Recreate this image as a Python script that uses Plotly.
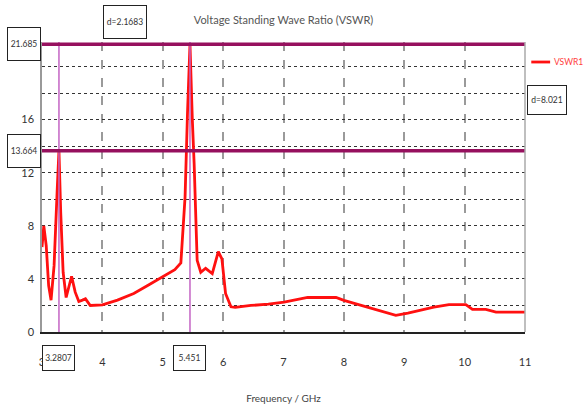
import plotly.graph_objects as go

# VSWR sweep, frequency in GHz
freq = [3.0, 3.03, 3.07, 3.11, 3.15, 3.20, 3.25, 3.2807, 3.31, 3.35, 3.40, 3.45,
        3.49, 3.55, 3.61, 3.67, 3.72, 3.80, 3.90, 4.0, 4.25, 4.52, 4.75, 5.0,
        5.20, 5.30, 5.33, 5.37, 5.41, 5.451, 5.49, 5.52, 5.57, 5.63, 5.71, 5.82,
        5.92, 5.98, 6.04, 6.13, 6.20, 6.46, 6.75, 7.01, 7.40, 7.87, 8.0, 8.39,
        8.86, 9.06, 9.49, 9.74, 10.02, 10.13, 10.35, 10.52, 11.0]
vswr = [6.4, 8.0, 6.5, 3.5, 2.4, 5.0, 10.5, 13.664, 9.0, 4.5, 2.6, 3.5,
        4.2, 3.0, 2.3, 2.4, 2.5, 2.0, 2.05, 2.05, 2.4, 2.9, 3.5, 4.2,
        4.7, 5.2, 7.7, 10.2, 16.5, 21.685, 16.0, 12.7, 5.4, 4.5, 4.8, 4.4,
        6.05, 5.5, 2.9, 1.9, 1.85, 2.0, 2.1, 2.25, 2.6, 2.6, 2.38, 1.87,
        1.25, 1.42, 1.87, 2.07, 2.07, 1.7, 1.7, 1.5, 1.5]
series_name = "VSWR1"

# Marker readouts
marker_x = [3.2807, 5.451]
marker_y = [13.664, 21.685]
delta_x_label = "d=2.1683"
delta_y_label = "d=8.021"

x_ticks = [3, 4, 5, 6, 7, 8, 9, 10, 11]
y_ticks = [0, 4, 8, 12, 16]

FONT = "Lato, Liberation Sans Narrow, sans-serif"
YMAX = 21.85
LINE_RED = "#FF1010"

fig = go.Figure()
fig.add_trace(go.Scatter(
    x=freq, y=vswr, mode="lines", name=series_name, showlegend=False,
    line=dict(color=LINE_RED, width=2.8),
))

# Vertical marker lines
for mx in marker_x:
    fig.add_shape(type="line", xref="x", yref="y", x0=mx, x1=mx, y0=0, y1=YMAX,
                  line=dict(color="#C464C4", width=1.5), layer="above")
# Horizontal marker lines
for my in marker_y:
    fig.add_shape(type="line", xref="paper", yref="y", x0=0, x1=1, y0=my, y1=my,
                  line=dict(color="#96105E", width=3.5), layer="above")

box = dict(bgcolor="white", bordercolor="#222", borderwidth=1, borderpad=2,
           font=dict(family=FONT, size=8.5, color="#333"))

# Y marker readouts on the left
for my in marker_y:
    fig.add_annotation(xref="paper", yref="y", x=0, y=my, xanchor="right",
                       yanchor="middle", xshift=-1, text=f"{my:g}",
                       showarrow=False, width=28, height=28, **box)
# X marker readouts below the axis
for mx in marker_x:
    fig.add_annotation(xref="x", yref="paper", x=mx, y=0, xanchor="center",
                       yanchor="top", yshift=-13, text=f"{mx:g}",
                       showarrow=False, width=27, height=20, **box)

fig.add_annotation(xref="x", yref="paper", x=4.37, y=1, xanchor="center",
                   yanchor="bottom", yshift=3, text=delta_x_label,
                   showarrow=False, width=38, height=28, **box)
fig.add_annotation(xref="paper", yref="y", x=1, y=17.5, xanchor="left",
                   yanchor="middle", xshift=2, text=delta_y_label,
                   showarrow=False, width=34, height=24, **box)

# Series key on the right of the plot
fig.add_shape(type="line", xref="paper", yref="paper", x0=1.013, x1=1.052,
              y0=0.931, y1=0.931, line=dict(color=LINE_RED, width=2.8))
fig.add_annotation(xref="paper", yref="paper", x=1.055, y=0.931, xanchor="left",
                   yanchor="middle", text=series_name, showarrow=False,
                   font=dict(family=FONT, size=8.5, color="#FF4040"))

fig.update_layout(
    width=583, height=412,
    margin=dict(l=41.5, r=58, t=42, b=80, autoexpand=False),
    paper_bgcolor="white", plot_bgcolor="white",
    font=dict(family=FONT, size=11, color="#333"),
    title=dict(text="Voltage Standing Wave Ratio (VSWR)", x=0.5, xref="paper",
               xanchor="center", y=0.95, yanchor="middle",
               font=dict(family=FONT, size=11, color="#555")),
    showlegend=False,
    xaxis=dict(range=[3, 11], tickvals=x_ticks, ticktext=[str(v) for v in x_ticks],
               showgrid=True, gridcolor="#9A9A9A", griddash="dash", gridwidth=1.5,
               zeroline=False, showline=True, linecolor="#222", linewidth=1.5,
               ticks="", ticklabelstandoff=19,
               title=dict(text="Frequency / GHz", standoff=28,
                          font=dict(family=FONT, size=10, color="#444"))),
    yaxis=dict(range=[0, YMAX], tickvals=y_ticks, ticktext=[str(v) for v in y_ticks],
               showgrid=True, gridcolor="#333", griddash="dot", gridwidth=1,
               minor=dict(dtick=2, tick0=0, showgrid=True, gridcolor="#333",
                          griddash="dot", gridwidth=1),
               zeroline=False, showline=True, linecolor="#999", linewidth=1.5,
               mirror=False, ticks="", ticklabelstandoff=4),
)
# Right frame edge
fig.add_shape(type="line", xref="paper", yref="paper", x0=1, x1=1, y0=0, y1=1,
              line=dict(color="#AAA", width=1.5))

fig.write_html("out.html")
